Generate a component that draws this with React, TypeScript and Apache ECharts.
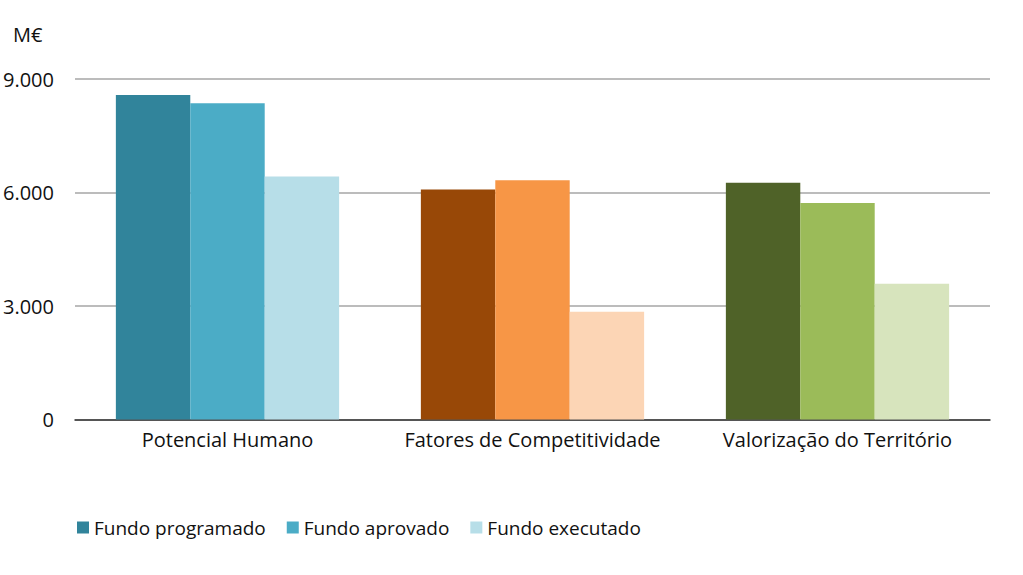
import React, { useEffect, useRef } from "react";
import * as echarts from "echarts";

const categories = ["Potencial Humano", "Fatores de Competitividade", "Valorização do Território"];
const seriesNames = ["Fundo programado", "Fundo aprovado", "Fundo executado"];
const programado = [8580, 6080, 6255];
const aprovado = [8360, 6325, 5725];
const executado = [6420, 2845, 3590];
const yTicks = [0, 3000, 6000, 9000];

// colours per category (rows) and series (columns)
const palette = [
  ["#31849B", "#4BACC6", "#B7DEE8"],
  ["#984807", "#F79646", "#FCD5B5"],
  ["#4F6228", "#9BBB59", "#D7E4BD"],
];

const FONT = "'Open Sans', 'Noto Sans', sans-serif";
const TXT = "#111111";

export default function App() {
  const ref = useRef<HTMLDivElement>(null);
  useEffect(() => {
    const chart = echarts.init(ref.current!, null, { renderer: "svg" });
    const values = [programado, aprovado, executado];
    chart.setOption({
      animation: false,
      textStyle: { fontFamily: FONT },
      grid: { left: 74, right: 33, top: 79, bottom: 155.5, containLabel: false },
      graphic: [
        {
          type: "text",
          left: 13,
          top: 24,
          style: { text: "M€", fontSize: 20, fontFamily: FONT, fill: TXT },
        },
      ],
      legend: {
        left: 72,
        top: 513,
        icon: "rect",
        itemWidth: 12,
        itemHeight: 12,
        itemGap: 21,
        textStyle: { fontSize: 19, color: TXT, fontFamily: FONT },
        data: seriesNames,
      },
      xAxis: {
        type: "category",
        data: categories,
        axisLine: { show: true, lineStyle: { color: "#333", width: 1.5 } },
        axisTick: { show: false },
        axisLabel: { fontSize: 20, color: TXT, margin: 10, fontFamily: FONT, interval: 0, hideOverlap: false },
      },
      yAxis: {
        type: "value",
        min: yTicks[0],
        max: yTicks[yTicks.length - 1],
        interval: 3000,
        axisLine: { show: false },
        axisTick: { show: false },
        splitLine: { lineStyle: { color: "#A6A6A6", width: 1.5 } },
        axisLabel: {
          fontSize: 20,
          color: TXT,
          margin: 21,
          fontFamily: FONT,
          formatter: (v: number) => v.toString().replace(/\B(?=(\d{3})+(?!\d))/g, "."),
        },
      },
      series: seriesNames.map((name, si) => ({
        name,
        type: "bar",
        barGap: "0%",
        barCategoryGap: "26.8%",
        itemStyle: { color: palette[0][si] },
        data: values[si].map((v, ci) => ({ value: v, itemStyle: { color: palette[ci][si] } })),
      })),
    });
    return () => chart.dispose();
  }, []);
  return <div ref={ref} style={{ width: 1023, height: 575, position: "absolute", left: 0, top: 0 }} />;
}
